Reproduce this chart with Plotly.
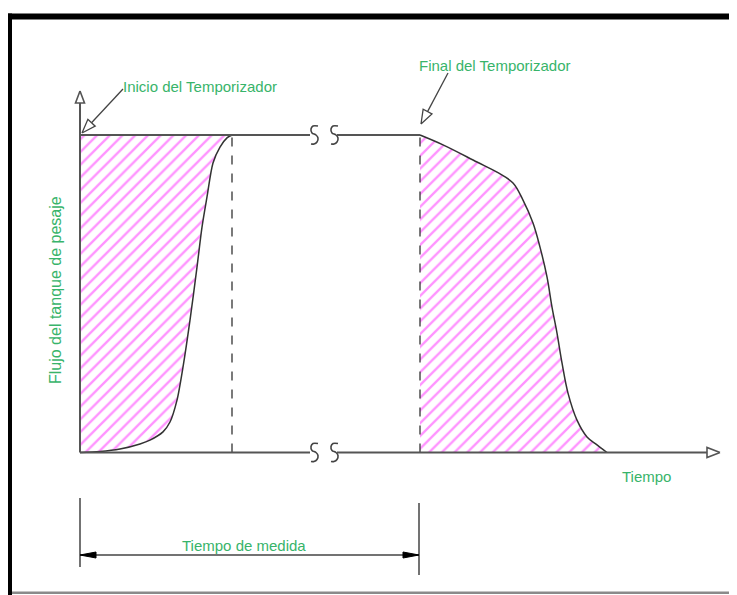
import math
import plotly.graph_objects as go

# ---------------- data ----------------
# time in arbitrary units from the start of the timer, flow as a fraction of full flow
rise_time = [0, 20, 40, 60, 70, 83, 90, 97, 103, 110, 117, 122, 127, 133, 140, 147, 152]
rise_flow = [0, 0.003, 0.011, 0.027, 0.039, 0.065, 0.096, 0.165, 0.269, 0.417,
             0.584, 0.710, 0.805, 0.912, 0.962, 0.991, 1.0]
fall_time = [340, 363, 397, 417, 433, 443, 453, 460, 467, 472, 477, 482, 488, 497, 507, 517, 527]
fall_flow = [1.0, 0.969, 0.915, 0.883, 0.849, 0.795, 0.723, 0.647, 0.553, 0.458,
             0.376, 0.282, 0.187, 0.102, 0.049, 0.024, 0.0]
break_time = [234, 254]          # axis break marks
axis_end_time = 627              # end of time axis (arrow base)
full_flow = 1.0

label_start = "Inicio del Temporizador"
label_end = "Final del Temporizador"
label_y = "Flujo del tanque de pesaje"
label_x = "Tiempo"
label_measure = "Tiempo de medida"

# ---------------- layout constants ----------------
PAGE_W, PAGE_H = 737, 595
OFF = 8                          # default page margin around the plot div
W, H = PAGE_W - OFF, PAGE_H - OFF
X0_PX = 80.0       # page pixel column of time 0
Y0_PX = 452.5      # page pixel row of flow 0
PX_PER_T = 1.0
PX_PER_F = 317.5

def T(px):
    return (px - X0_PX) / PX_PER_T

def F(py):
    return (Y0_PX - py) / PX_PER_F

def dT(dpx):
    return dpx / PX_PER_T

def dF(dpy):
    return -dpy / PX_PER_F

GREEN = "#38b46a"
MAGENTA = "#ff28ff"
AXC = "#555555"
CURVE = "#333333"
FONT = "Liberation Sans, Arial, sans-serif"

fig = go.Figure()

hatch = dict(shape="/", fgcolor=MAGENTA, bgcolor="rgba(255,255,255,0)", size=9, solidity=0.26)

# hatched areas + curves
fig.add_trace(go.Scatter(x=rise_time, y=rise_flow, mode="lines", fill="tozerox",
                         fillpattern=hatch, line=dict(color=CURVE, width=1.5, shape="spline", smoothing=0.8),
                         hoverinfo="skip"))
fig.add_trace(go.Scatter(x=fall_time, y=fall_flow, mode="lines", fill="tozeroy",
                         fillpattern=hatch, line=dict(color=CURVE, width=1.5, shape="spline", smoothing=1.0),
                         hoverinfo="skip"))

def line(xs, ys, color=AXC, width=2, dash="solid", shape="linear"):
    fig.add_trace(go.Scatter(x=xs, y=ys, mode="lines",
                             line=dict(color=color, width=width, dash=dash, shape=shape),
                             hoverinfo="skip"))

def poly(xs, ys, fillcolor, color, width=1.5):
    fig.add_trace(go.Scatter(x=xs + [xs[0]], y=ys + [ys[0]], mode="lines", fill="toself",
                             fillcolor=fillcolor, line=dict(color=color, width=width),
                             hoverinfo="skip"))

# dashed verticals
line([rise_time[-1], rise_time[-1]], [0, full_flow], color=CURVE, width=1.3, dash="dash")
line([fall_time[0], fall_time[0]], [0, full_flow], color=CURVE, width=1.3, dash="dash")

# top line (full flow) with break
gap_l = break_time[0] - dT(4)
gap_r = break_time[1] + dT(3)
line([rise_time[0], gap_l], [full_flow, full_flow])
line([gap_r, fall_time[0]], [full_flow, full_flow])
# baseline with break
line([rise_time[0], gap_l], [0, 0])
line([gap_r, axis_end_time], [0, 0])

# break marks (S shapes)
s_dx = [4, -1, -3, -2, 2, 4, 3, 0, -3]
s_dy = [-9, -9, -6, -2, 0, 3, 7, 9, 9]
for bt in break_time:
    for lvl in (full_flow, 0):
        line([bt + dT(a) for a in s_dx], [lvl + dF(b) for b in s_dy],
             color="#444444", width=1.6, shape="spline")

# y axis with open arrow
line([rise_time[0], rise_time[0]], [0, F(103)])
poly([rise_time[0], rise_time[0] - dT(4.5), rise_time[0] + dT(4.5)],
     [F(91), F(103), F(103)], "white", AXC, 1.6)
# x axis open arrow
poly([axis_end_time + dT(13), axis_end_time, axis_end_time],
     [0, dF(-5), dF(5)], "white", AXC, 1.6)

# leader arrows with open heads
def leader(tail_px, tip_px, head_len=14, half_w=5):
    tx, ty = tail_px
    px, py = tip_px
    vx, vy = px - tx, py - ty
    L = math.hypot(vx, vy)
    ux, uy = vx / L, vy / L
    bx, by = px - head_len * ux, py - head_len * uy
    nx, ny = -uy, ux
    line([T(tx), T(bx)], [F(ty), F(by)], color="#444444", width=1.3)
    poly([T(px), T(bx + half_w * nx), T(bx - half_w * nx)],
         [F(py), F(by + half_w * ny), F(by - half_w * ny)], "white", "#444444", 1.3)

leader((123, 89), (X0_PX + rise_time[0] + 2, 133))
leader((448, 73), (X0_PX + fall_time[0] + 1, 124))

# measurement dimension line
m0, m1 = rise_time[0], fall_time[0] - 1
line([m0, m0], [F(498), F(567)], color="#444444", width=1.5)
line([m1, m1], [F(503), F(575)], color="#444444", width=1.5)
line([m0, m1], [F(555), F(555)], color="#444444", width=1.3)
poly([m0, m0 + dT(16), m0 + dT(16)], [F(555), F(552), F(558)], "black", "black", 1)
poly([m1, m1 - dT(16), m1 - dT(16)], [F(555), F(552), F(558)], "black", "black", 1)

# texts
def text(s, xpx, ypx, size=15, angle=0):
    fig.add_annotation(x=T(xpx), y=F(ypx), xref="x", yref="y", text=s, showarrow=False,
                       textangle=angle, xanchor="center", yanchor="middle",
                       font=dict(family=FONT, size=size, color=GREEN))

text(label_start, 200, 86)
text(label_end, 494, 65)
text(label_y, 55, 290, size=16, angle=-90)
text(label_x, 646, 476)
text(label_measure, 244, 545)

# frame (window border), given in page pixels
def px_rect(x0, y0, x1, y1, color):
    x0, x1 = max(x0 - OFF, 0), x1 - OFF
    y0, y1 = max(y0 - OFF, 0), y1 - OFF
    fig.add_shape(type="rect", xref="paper", yref="paper",
                  x0=x0 / W, x1=x1 / W, y0=1 - y1 / H, y1=1 - y0 / H,
                  fillcolor=color, line=dict(width=0), layer="above")

px_rect(5, 13.5, PAGE_W, 19.5, "black")
px_rect(5, 13.5, 12, PAGE_H, "black")
px_rect(12, 591.5, PAGE_W, 594, "#8a8a8a")

fig.update_layout(
    width=W, height=H, autosize=False,
    margin=dict(l=0, r=0, t=0, b=0, pad=0),
    paper_bgcolor="white", plot_bgcolor="white",
    showlegend=False,
    xaxis=dict(range=[T(OFF), T(PAGE_W)], visible=False, fixedrange=True),
    yaxis=dict(range=[F(PAGE_H), F(OFF)], visible=False, fixedrange=True),
)

fig.write_html("out.html")
